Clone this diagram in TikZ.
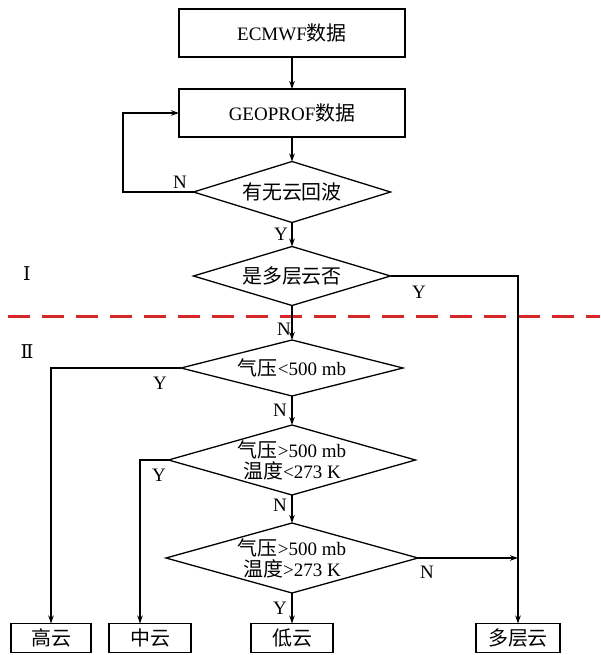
\documentclass[tikz,border=0pt]{standalone}
\usepackage{fontspec}
\setmainfont{Liberation Serif}
\newfontfamily\cjk{Noto Sans CJK SC}[Scale=1.05]
\newfontfamily\romfont{DejaVu Serif}
\usetikzlibrary{shapes.geometric,arrows.meta}
\definecolor{dashred}{RGB}{214,40,40}
\begin{document}
\begin{tikzpicture}[x=1pt,y=-1pt,line width=1.3pt,
  >={Stealth[length=8pt,width=5.5pt]},
  txt/.style={font=\fontsize{19}{21}\selectfont},
  box/.style={draw,rectangle,inner sep=0pt,outer sep=0pt,txt},
  dia/.style={draw,diamond,inner sep=0pt,outer sep=0pt},
  lab/.style={txt,inner sep=0pt,align=center},
  sepline/.style={draw=dashred,line width=3pt,dash pattern=on 22pt off 12pt}]
\useasboundingbox (0,0) rectangle (600,655);
% boxes
\node[box,minimum width=226pt,minimum height=48pt] (ecm) at (292,33) {ECMWF{\cjk 数据}};
\node[box,minimum width=226pt,minimum height=48pt] (geo) at (292,113) {GEOPROF{\cjk 数据}};
% diamonds
\node[dia,minimum width=197pt,minimum height=61pt,label={[lab]center:{\cjk 有无云回波}}] (d1) at (292,192) {};
\node[dia,minimum width=197pt,minimum height=59pt,label={[lab]center:{\cjk 是多层云否}}] (d2) at (292,276) {};
\node[dia,minimum width=222pt,minimum height=56pt,label={[lab]center:{\cjk 气压}<500 mb}] (d3) at (292,368) {};
\node[dia,minimum width=247pt,minimum height=70pt,label={[lab]center:{{\cjk 气压}>500 mb\\{\cjk 温度}<273 K}}] (d4) at (292,460) {};
\node[dia,minimum width=252pt,minimum height=70pt,label={[lab]center:{{\cjk 气压}>500 mb\\{\cjk 温度}>273 K}}] (d5) at (292,558) {};
% result boxes
\node[box,minimum width=80pt,minimum height=29pt] (gy) at (51,638) {\cjk 高云};
\node[box,minimum width=82pt,minimum height=29pt] (zy) at (150,638) {\cjk 中云};
\node[box,minimum width=82pt,minimum height=29pt] (dy) at (292,638) {\cjk 低云};
\node[box,minimum width=84pt,minimum height=29pt] (dcy) at (518,638) {\cjk 多层云};
% region labels
\node[lab] (r1) at (27,274) {\romfont Ⅰ};
\node[lab] (r2) at (27,352) {\romfont Ⅱ};
% separator
\coordinate (sl) at (8,316);
\coordinate (sr) at (600,316);
\draw[sepline] (sl) -- (sr);
% connectors
\coordinate (lp) at (123,192);
\coordinate (zc) at (140,460);
\draw[->] (ecm) -- (geo);
\draw[->] (geo) -- (d1);
\draw[->] (d1.west) -- (lp) |- (geo.west);
\draw[->] (d1) -- (d2);
\draw[->] (d2.east) -| (dcy.north);
\draw[->] (d2) -- (d3);
\draw[->] (d3.west) -| (gy.north);
\draw[->] (d3) -- (d4);
\draw[->] (d4.west) -- (zc) -- (zc |- zy.north);
\draw[->] (d4) -- (d5);
\draw[->] (d5) -- (dy);
\draw[->] (d5.east) -- (d5.east -| dcy.north);
% Y/N labels
\node[lab] (n1) at (180,182) {N};
\node[lab] (y1) at (281,234) {Y};
\node[lab] (y2) at (419,292) {Y};
\node[lab] (n2) at (284,329) {N};
\node[lab] (y3) at (160,383) {Y};
\node[lab] (n3) at (280,410) {N};
\node[lab] (y4) at (159,475) {Y};
\node[lab] (n4) at (280,505) {N};
\node[lab] (n5) at (427,572) {N};
\node[lab] (y5) at (280,608) {Y};
\end{tikzpicture}
\end{document}
